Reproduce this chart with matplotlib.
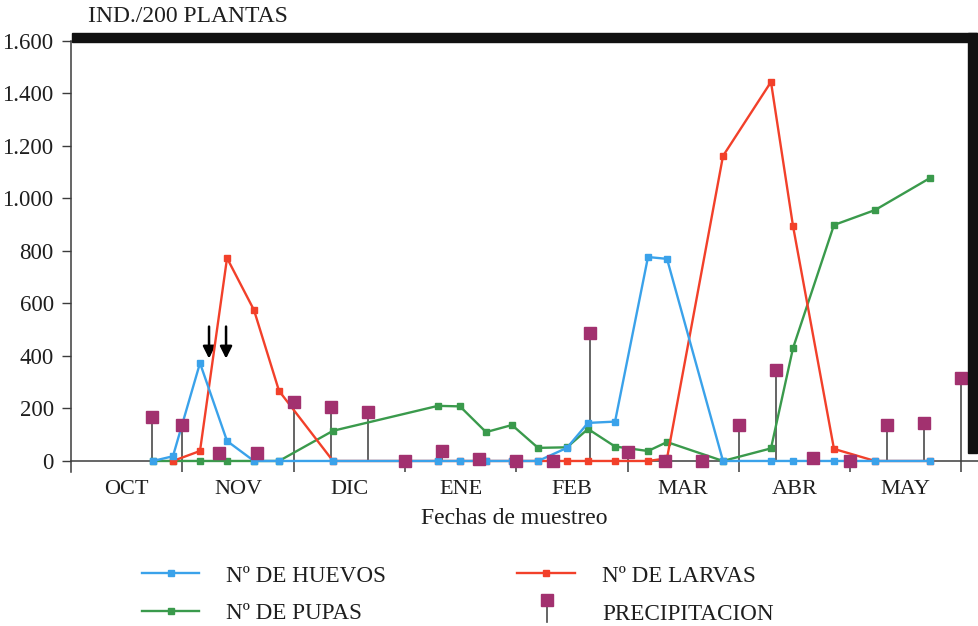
import matplotlib
matplotlib.use("Agg")
import matplotlib.pyplot as plt
from matplotlib.lines import Line2D
from matplotlib.patches import Rectangle

# ---- data -------------------------------------------------------------
# sampling dates expressed in months since 1 October (OCT = 0..1, NOV = 1..2, ...)
sample_dates = [0.737, 0.916, 1.159, 1.402, 1.644, 1.869, 2.354, 3.297, 3.495,
                3.729, 3.962, 4.196, 4.456, 4.645, 4.888, 5.184, 5.355, 5.858,
                6.289, 6.487, 6.855, 7.224, 7.718]
huevos = [0, 18, 373, 76, 0, 0, 0, 0, 0, 0, 0, 0, 50, 145, 150, 777, 770,
          0, 0, 0, 0, 0, 0]
pupas = [0, 0, 0, 0, 0, 0, 115, 210, 208, 110, 137, 50, 52, 122, 55, 38, 72,
         0, 48, 430, 899, 956, 1078]
# larvae were first counted on the second sampling date
larvas_dates = sample_dates[1:]
larvas = [0, 38, 773, 575, 267, 0, 0, 0, 0, 0, 0, 0, 0, 0, 0, 10, 1162,
          1444, 895, 46, 0, 0]

# rainfall per ten-day period (same vertical scale)
precip_dates = [0.73] + [1 + k / 3 for k in range(22)]
precip = [168, 137, 30, 30, 225, 205, 185, 0, 38, 8, 0, 0, 487, 33, 0, 0,
          138, 345, 10, 0, 137, 145, 318]

months = ["OCT", "NOV", "DIC", "ENE", "FEB", "MAR", "ABR", "MAY"]
yticks = [0, 200, 400, 600, 800, 1000, 1200, 1400, 1600]
ytick_labels = ["0", "200", "400", "600", "800", "1.000", "1.200", "1.400", "1.600"]

# treatment dates marked with arrows
arrow_dates = [1.24, 1.393]

# ---- style ------------------------------------------------------------
C_BLUE = "#3aa2ea"
C_RED = "#f2402a"
C_GREEN = "#3a9a4c"
C_MAG = "#a2316f"
C_AX = "#3c3c3c"
C_TXT = "#1e1e1e"
FONT = "Liberation Serif"
plt.rcParams["font.family"] = FONT

W, H = 979, 626
fig = plt.figure(figsize=(W / 100, H / 100), dpi=100)


def fx(px):
    return px / W


def fy(py):
    return 1 - py / H


ax = fig.add_axes([fx(71), fy(472), fx(979) - fx(71), fy(41) - fy(472)])
ax.set_xlim(0, 8.158)
ax.set_ylim(-42, 1600)

# spines
for s in ("top", "right"):
    ax.spines[s].set_visible(False)
ax.spines["bottom"].set_position(("data", 0))
for s in ("bottom", "left"):
    ax.spines[s].set_color(C_AX)
    ax.spines[s].set_linewidth(1.1)

ax.set_yticks(yticks)
ax.set_yticklabels(ytick_labels, fontsize=16.5, color=C_TXT)
ax.tick_params(axis="y", length=6.5, width=1.0, color=C_AX, pad=6)

ax.set_xticks(range(1, 9))
ax.set_xticklabels([])
ax.tick_params(axis="x", which="major", length=8, width=1.1, color=C_AX)
ax.set_xticks([i + 0.5 for i in range(8)], minor=True)
ax.set_xticklabels(months, minor=True, fontsize=16, color=C_TXT)
ax.tick_params(axis="x", which="minor", length=0, pad=14)

# rainfall stems and markers
ax.vlines(precip_dates, 0, precip, colors="#4a4a4a", lw=1.2, zorder=2)

# series
ax.plot(sample_dates, pupas, color=C_GREEN, lw=1.7, marker="s", ms=4.5, zorder=3)
ax.plot(larvas_dates, larvas, color=C_RED, lw=1.7, marker="s", ms=4.5, zorder=4)
ax.plot(sample_dates, huevos, color=C_BLUE, lw=1.7, marker="s", ms=4.5, zorder=5)
ax.plot(precip_dates, precip, ls="none", marker="s", ms=8, color=C_MAG, zorder=6)

for xa in arrow_dates:
    ax.annotate("", xy=(xa, 390), xytext=(xa, 512),
                arrowprops=dict(arrowstyle="-|>", color="black", lw=1.8,
                                mutation_scale=18, shrinkA=0, shrinkB=0))

# heavy frame along top and right
fig.patches.append(Rectangle((fx(72), fy(42)), fx(977) - fx(72), fy(33) - fy(42),
                             transform=fig.transFigure, color="#111111", zorder=1))
fig.patches.append(Rectangle((fx(968), fy(453)), fx(977) - fx(968), fy(33) - fy(453),
                             transform=fig.transFigure, color="#111111", zorder=1))

# titles
fig.text(fx(88), fy(16), "IND./200 PLANTAS", fontsize=17, va="center", ha="left",
         color=C_TXT)
fig.text(fx(514), fy(519), "Fechas de muestreo", fontsize=17, va="center",
         ha="center", color=C_TXT)

# legend
def leg_line(x0, x1, y, color):
    fig.add_artist(Line2D([fx(x0), fx(x1)], [fy(y), fy(y)], color=color, lw=1.7,
                          transform=fig.transFigure))
    xm = (x0 + x1) / 2
    fig.add_artist(Line2D([fx(xm)], [fy(y)], color=color, marker="s", ms=4.5,
                          transform=fig.transFigure))


leg_line(142, 199, 573, C_BLUE)
leg_line(142, 199, 611, C_GREEN)
leg_line(517, 575, 573, C_RED)
fig.add_artist(Line2D([fx(547), fx(547)], [fy(602), fy(622)], color="#4a4a4a",
                      lw=1.2, transform=fig.transFigure))
fig.add_artist(Line2D([fx(547)], [fy(600)], color=C_MAG, marker="s", ms=8,
                      ls="none", transform=fig.transFigure))

for x, y, t in [(226, 582, "Nº DE HUEVOS"), (226, 619, "Nº DE PUPAS"),
                (602, 582, "Nº DE LARVAS"), (602, 620, "PRECIPITACION")]:
    fig.text(fx(x), fy(y), t, fontsize=16.7, va="baseline", ha="left", color=C_TXT)

fig.savefig("out.png", dpi=100)
